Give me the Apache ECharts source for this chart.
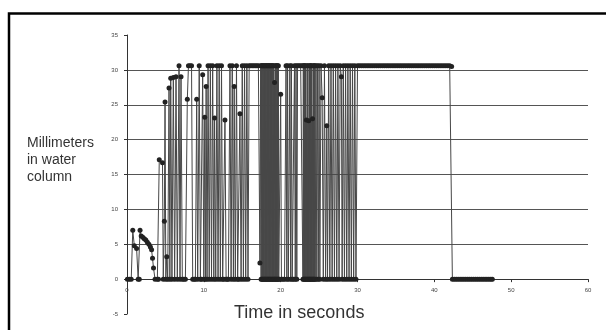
<!DOCTYPE html>
<html>
<head>
<meta charset="utf-8">
<script src="https://cdn.jsdelivr.net/npm/echarts@6/dist/echarts.min.js"></script>
<style>
html, body { margin: 0; padding: 0; background: #fff; }
#chart { width: 606px; height: 330px; }
</style>
</head>
<body>
<div id="chart"></div>
<script>
// readings from the picture: [seconds, millimeters]
var startLow = [
  [0.05,0],[0.3,0],[0.55,0],[0.75,7.0],[0.95,4.8],[1.25,4.4],[1.45,0],[1.6,0],[1.7,7.0],
  [1.85,6.2],[2.05,6.0],[2.25,5.8],[2.45,5.6],[2.65,5.3],[2.85,5.0],[3.05,4.6],[3.2,4.2],
  [3.32,3.0],[3.45,1.6],[3.65,0],[3.95,0],[4.1,0]
];
var rising = [
  [4.2,17.1],[4.62,16.7],[4.72,0],[4.86,8.3],[4.95,25.4],[5.05,0],[5.17,3.2],[5.3,0],
  [5.47,27.4],[5.58,0],[5.69,28.8],[5.85,0],[6.03,28.9],[6.2,0],[6.38,29.0],[6.55,0],
  [6.77,30.6],[6.9,0],[7.03,29.0],[7.2,0],[7.4,0],[7.6,0]
];
var burst1 = [
  [7.85,25.8],[8.0,30.6],[8.2,30.6],[8.4,30.6],[8.55,0],[8.75,0],[8.9,0],[9.07,25.8],[9.2,0],
  [9.4,30.6],[9.55,0],[9.7,0],[9.85,29.3],[10.0,0],[10.12,23.2],[10.22,0],[10.3,27.6],[10.42,0],
  [10.55,30.6],[10.7,0],[10.85,30.6],[11.0,0],[11.15,30.6],[11.3,0],[11.4,23.1],[11.55,0],
  [11.7,30.6],[11.85,0],[12.0,30.6],[12.15,0],[12.3,30.6],[12.45,0],[12.6,0],[12.75,22.8],
  [12.9,0],[13.05,0],[13.2,0],[13.4,30.6],[13.55,0],[13.7,30.6],[13.85,0],[13.95,27.6],[14.1,0],
  [14.25,30.6],[14.4,0],[14.55,0],[14.7,23.7],[14.85,0],[15.0,30.6],[15.15,0],[15.3,30.6],
  [15.45,0],[15.6,30.6],[15.75,0],[15.9,30.6],
  [16.1,30.6],[16.3,30.6],[16.5,30.6],[16.7,30.6],[16.9,30.6],[17.1,30.6]
];
var burst2 = [
  [17.3,2.3],[17.4,30.6],[17.45,0],[17.5,30.6],[17.55,0],[17.6,30.6],[17.65,0],[17.7,30.6],
  [17.75,0],[17.8,30.6],[17.85,0],[17.9,30.6],[17.95,0],[18.0,30.6],[18.05,0],[18.1,30.6],
  [18.15,0],[18.2,30.6],[18.25,0],[18.3,30.6],[18.35,0],[18.4,30.6],[18.45,0],[18.5,30.6],
  [18.55,0],[18.6,30.6],[18.65,0],[18.7,30.6],[18.75,0],[18.8,30.6],[18.85,0],[18.9,30.6],
  [18.95,0],[19.0,30.6],[19.05,0],[19.1,30.6],[19.15,0],[19.2,28.2],[19.25,0],[19.3,30.6],
  [19.35,0],[19.4,30.6],[19.45,0],[19.5,30.6],[19.55,0],[19.6,30.6],[19.65,0],[19.7,30.6],
  [19.75,0],[19.85,0],[20.0,26.5],[20.1,0],[20.3,0],[20.5,0],[20.7,30.6],[20.8,0],[20.9,30.6],
  [21.0,0],[21.2,30.6],[21.3,0],[21.4,30.6],[21.5,0],[21.7,0],[21.8,30.6],[21.9,0],[22.0,30.6],
  [22.1,0],[22.2,30.6],[22.4,30.6],[22.6,30.6],[22.8,30.6]
];
var burst3 = [
  [22.9,0],[22.95,30.6],[23.0,0],[23.05,30.6],[23.1,0],[23.15,30.6],[23.2,0],[23.25,30.6],
  [23.3,0],[23.35,22.8],[23.4,0],[23.45,30.6],[23.5,0],[23.55,30.6],[23.6,0],[23.65,22.7],
  [23.7,0],[23.75,30.6],[23.8,0],[23.85,30.6],[23.9,0],[23.95,30.6],[24.0,0],[24.05,30.6],
  [24.1,0],[24.15,23.0],[24.2,0],[24.25,30.6],[24.3,0],[24.35,30.6],[24.4,0],[24.45,30.6],
  [24.5,0],[24.6,30.6],[24.7,0],[24.8,30.6],[24.9,0],[25.0,30.6],[25.1,0],[25.25,30.6],
  [25.4,26.0],[25.55,0],[25.7,30.6],[25.85,0],[26.0,22.0],[26.1,0],[26.25,30.6],[26.4,0],
  [26.55,30.6],[26.7,0],[26.85,30.6],[27.0,0],[27.15,30.6],[27.3,0],[27.45,30.6],[27.6,0],
  [27.75,30.6],[27.9,29.0],[28.0,0],[28.15,30.6],[28.3,0],[28.45,30.6],[28.6,0],[28.75,30.6],
  [28.9,0],[29.05,30.6],[29.2,0],[29.35,30.6],[29.5,0],[29.65,30.6],[29.8,0]
];
var plateau = [
  [30.0,30.6],[30.25,30.6],[30.5,30.6],[30.75,30.6],[31.0,30.6],[31.25,30.6],[31.5,30.6],
  [31.75,30.6],[32.0,30.6],[32.25,30.6],[32.5,30.6],[32.75,30.6],[33.0,30.6],[33.25,30.6],
  [33.5,30.6],[33.75,30.6],[34.0,30.6],[34.25,30.6],[34.5,30.6],[34.75,30.6],[35.0,30.6],
  [35.25,30.6],[35.5,30.6],[35.75,30.6],[36.0,30.6],[36.25,30.6],[36.5,30.6],[36.75,30.6],
  [37.0,30.6],[37.25,30.6],[37.5,30.6],[37.75,30.6],[38.0,30.6],[38.25,30.6],[38.5,30.6],
  [38.75,30.6],[39.0,30.6],[39.25,30.6],[39.5,30.6],[39.75,30.6],[40.0,30.6],[40.25,30.6],
  [40.5,30.6],[40.75,30.6],[41.0,30.6],[41.25,30.6],[41.5,30.6],[41.75,30.6],[42.0,30.6],
  [42.25,30.5]
];
var endZero = [
  [42.35,0],[42.6,0],[42.85,0],[43.1,0],[43.35,0],[43.6,0],[43.85,0],[44.1,0],[44.35,0],
  [44.6,0],[44.85,0],[45.1,0],[45.35,0],[45.6,0],[45.85,0],[46.1,0],[46.35,0],[46.6,0],
  [46.85,0],[47.1,0],[47.35,0],[47.55,0]
];

var waterData = [].concat(startLow, rising, burst1, burst2, burst3, plateau, endZero);

var chart = echarts.init(document.getElementById('chart'));
var option = {
  animation: false,
  backgroundColor: '#fff',
  textStyle: { fontFamily: 'Liberation Sans, Arial, sans-serif' },
  grid: [
    { left: 127, right: 18, top: 35, bottom: 16 },
    // thin strip along the zero line, only for the x tick labels
    { left: 127, right: 18, top: 278, height: 1 }
  ],
  xAxis: [
    {
      type: 'value',
      min: 0,
      max: 60,
      interval: 10,
      axisLine: { onZero: true, lineStyle: { color: '#333', width: 1 } },
      axisTick: { show: true, length: 3, lineStyle: { color: '#333' } },
      axisLabel: { show: false },
      splitLine: { show: false }
    },
    {
      type: 'value',
      gridIndex: 1,
      min: 0,
      max: 60,
      interval: 10,
      axisLine: { show: false },
      axisTick: { show: false },
      axisLabel: { fontSize: 6, color: '#444', margin: 8 },
      splitLine: { show: false }
    }
  ],
  yAxis: [
    {
      type: 'value',
      min: -5,
      max: 35,
      interval: 5,
      axisLine: { show: true, lineStyle: { color: '#333', width: 1 } },
      axisTick: { show: true, length: 3, lineStyle: { color: '#333' } },
      axisLabel: { fontSize: 6, color: '#444', margin: 9 },
      splitLine: {
        show: true,
        showMinLine: false,
        showMaxLine: false,
        lineStyle: { color: '#555', width: 1 }
      }
    },
    { type: 'value', gridIndex: 1, show: false }
  ],
  series: [
    {
      type: 'line',
      data: waterData,
      symbol: 'circle',
      symbolSize: 5,
      showAllSymbol: true,
      lineStyle: { color: '#474747', width: 1 },
      itemStyle: { color: '#222' }
    }
  ],
  graphic: [
    {
      type: 'rect',
      shape: { x: 9, y: 13.5, width: 700, height: 400 },
      style: { fill: 'none', stroke: '#000', lineWidth: 2.5 }
    },
    {
      type: 'text',
      left: 27,
      top: 135,
      style: {
        text: 'Millimeters\nin water\ncolumn',
        font: '14px "Liberation Sans", Arial, sans-serif',
        lineHeight: 17,
        fill: '#333'
      }
    },
    {
      type: 'text',
      left: 234,
      top: 304,
      style: {
        text: 'Time in seconds',
        font: '18px "Liberation Sans", Arial, sans-serif',
        fill: '#333'
      }
    }
  ]
};
chart.setOption(option);
</script>
</body>
</html>
